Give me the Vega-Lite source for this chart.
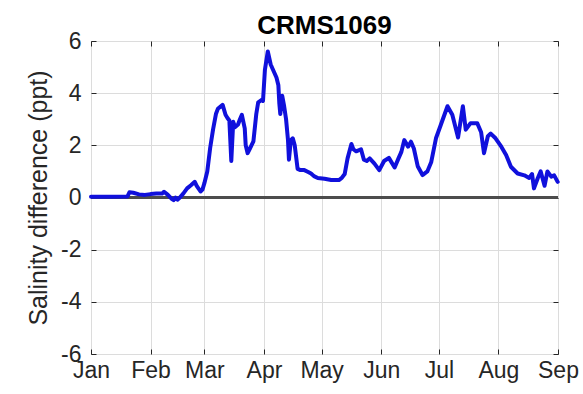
{
  "$schema": "https://vega.github.io/schema/vega-lite/v6.json",
  "width": 467,
  "height": 313,
  "autosize": {"type": "none"},
  "padding": {"left": 91, "top": 41, "right": 25, "bottom": 40},
  "background": "white",
  "title": {"text": "CRMS1069", "fontSize": 26, "fontWeight": "bold", "font": "Liberation Sans", "color": "#000000", "offset": 0, "dy": 9, "anchor": "middle"},
  "config": {
    "view": {"stroke": "#262626", "strokeWidth": 1},
    "axis": {
      "labelFont": "Liberation Sans",
      "labelFontSize": 23,
      "labelColor": "#262626",
      "labelFlush": false,
      "labelOverlap": false,
      "titleFont": "Liberation Sans",
      "titleFontSize": 25,
      "titleFontWeight": "normal",
      "titleColor": "#262626",
      "gridColor": "#dcdcdc",
      "gridWidth": 1,
      "domain": false,
      "tickColor": "#262626",
      "tickSize": -5
    }
  },
  "data": {"values": [
    {"date": "2019-01-01T00:00", "v": 0.03},
    {"date": "2019-01-11T00:00", "v": 0.03},
    {"date": "2019-01-20T00:00", "v": 0.04},
    {"date": "2019-01-21T00:00", "v": 0.2},
    {"date": "2019-01-23T00:00", "v": 0.18},
    {"date": "2019-01-26T00:00", "v": 0.12},
    {"date": "2019-01-29T00:00", "v": 0.1},
    {"date": "2019-02-01T00:00", "v": 0.13},
    {"date": "2019-02-04T00:00", "v": 0.15},
    {"date": "2019-02-07T00:00", "v": 0.15},
    {"date": "2019-02-08T00:00", "v": 0.22},
    {"date": "2019-02-10T00:00", "v": 0.1},
    {"date": "2019-02-12T00:00", "v": -0.05},
    {"date": "2019-02-13T00:00", "v": -0.1},
    {"date": "2019-02-14T00:00", "v": 0.0},
    {"date": "2019-02-15T00:00", "v": -0.08},
    {"date": "2019-02-16T00:00", "v": -0.02},
    {"date": "2019-02-18T00:00", "v": 0.15},
    {"date": "2019-02-20T00:00", "v": 0.35},
    {"date": "2019-02-22T00:00", "v": 0.47},
    {"date": "2019-02-24T00:00", "v": 0.6},
    {"date": "2019-02-25T00:00", "v": 0.45},
    {"date": "2019-02-27T00:00", "v": 0.23},
    {"date": "2019-02-28T00:00", "v": 0.3},
    {"date": "2019-03-01T00:00", "v": 0.55},
    {"date": "2019-03-02T12:00", "v": 1.0},
    {"date": "2019-03-04T00:00", "v": 1.9},
    {"date": "2019-03-05T12:00", "v": 2.6},
    {"date": "2019-03-07T00:00", "v": 3.2},
    {"date": "2019-03-08T00:00", "v": 3.4},
    {"date": "2019-03-10T12:00", "v": 3.55},
    {"date": "2019-03-12T00:00", "v": 3.17},
    {"date": "2019-03-13T00:00", "v": 3.05},
    {"date": "2019-03-14T00:00", "v": 2.95},
    {"date": "2019-03-15T00:00", "v": 1.4},
    {"date": "2019-03-16T00:00", "v": 2.9},
    {"date": "2019-03-17T00:00", "v": 2.7},
    {"date": "2019-03-18T12:00", "v": 2.8},
    {"date": "2019-03-19T12:00", "v": 3.0},
    {"date": "2019-03-20T12:00", "v": 3.17},
    {"date": "2019-03-22T00:00", "v": 2.65},
    {"date": "2019-03-22T12:00", "v": 2.0},
    {"date": "2019-03-23T12:00", "v": 1.7},
    {"date": "2019-03-24T12:00", "v": 1.85},
    {"date": "2019-03-25T12:00", "v": 2.0},
    {"date": "2019-03-26T12:00", "v": 2.15},
    {"date": "2019-03-28T00:00", "v": 3.2},
    {"date": "2019-03-29T00:00", "v": 3.65},
    {"date": "2019-03-31T00:00", "v": 3.75},
    {"date": "2019-03-31T12:00", "v": 3.7},
    {"date": "2019-04-01T12:00", "v": 4.9},
    {"date": "2019-04-03T00:00", "v": 5.6},
    {"date": "2019-04-04T12:00", "v": 5.1},
    {"date": "2019-04-06T00:00", "v": 4.85},
    {"date": "2019-04-07T12:00", "v": 4.6},
    {"date": "2019-04-08T12:00", "v": 4.3},
    {"date": "2019-04-09T00:00", "v": 3.6},
    {"date": "2019-04-09T12:00", "v": 3.2},
    {"date": "2019-04-10T12:00", "v": 3.9},
    {"date": "2019-04-11T12:00", "v": 3.5},
    {"date": "2019-04-12T12:00", "v": 3.0},
    {"date": "2019-04-13T12:00", "v": 2.2},
    {"date": "2019-04-14T00:00", "v": 1.45},
    {"date": "2019-04-15T00:00", "v": 2.2},
    {"date": "2019-04-16T00:00", "v": 2.27},
    {"date": "2019-04-17T00:00", "v": 2.0},
    {"date": "2019-04-18T12:00", "v": 1.1},
    {"date": "2019-04-20T00:00", "v": 1.05},
    {"date": "2019-04-22T00:00", "v": 1.05},
    {"date": "2019-04-24T00:00", "v": 0.98},
    {"date": "2019-04-25T12:00", "v": 0.92},
    {"date": "2019-04-27T00:00", "v": 0.82},
    {"date": "2019-04-29T00:00", "v": 0.75},
    {"date": "2019-05-02T12:00", "v": 0.72},
    {"date": "2019-05-06T00:00", "v": 0.67},
    {"date": "2019-05-10T00:00", "v": 0.67},
    {"date": "2019-05-11T12:00", "v": 0.75},
    {"date": "2019-05-13T00:00", "v": 0.9},
    {"date": "2019-05-14T12:00", "v": 1.5},
    {"date": "2019-05-16T12:00", "v": 2.05},
    {"date": "2019-05-17T12:00", "v": 1.85},
    {"date": "2019-05-19T00:00", "v": 1.77},
    {"date": "2019-05-21T12:00", "v": 1.85},
    {"date": "2019-05-23T00:00", "v": 1.45},
    {"date": "2019-05-24T12:00", "v": 1.4},
    {"date": "2019-05-26T00:00", "v": 1.5},
    {"date": "2019-05-28T12:00", "v": 1.3},
    {"date": "2019-05-31T00:00", "v": 1.05},
    {"date": "2019-06-02T12:00", "v": 1.4},
    {"date": "2019-06-05T00:00", "v": 1.52},
    {"date": "2019-06-08T00:00", "v": 1.15},
    {"date": "2019-06-10T00:00", "v": 1.5},
    {"date": "2019-06-11T12:00", "v": 1.75},
    {"date": "2019-06-13T00:00", "v": 2.2},
    {"date": "2019-06-15T00:00", "v": 1.95},
    {"date": "2019-06-16T12:00", "v": 2.14},
    {"date": "2019-06-18T00:00", "v": 1.88},
    {"date": "2019-06-20T00:00", "v": 1.2},
    {"date": "2019-06-22T12:00", "v": 0.86},
    {"date": "2019-06-25T00:00", "v": 1.0},
    {"date": "2019-06-27T00:00", "v": 1.35},
    {"date": "2019-06-29T12:00", "v": 2.27},
    {"date": "2019-07-02T00:00", "v": 2.78},
    {"date": "2019-07-05T12:00", "v": 3.5},
    {"date": "2019-07-08T00:00", "v": 3.17},
    {"date": "2019-07-11T00:00", "v": 2.3},
    {"date": "2019-07-13T12:00", "v": 3.5},
    {"date": "2019-07-15T00:00", "v": 2.6},
    {"date": "2019-07-17T12:00", "v": 2.85},
    {"date": "2019-07-21T00:00", "v": 2.85},
    {"date": "2019-07-23T00:00", "v": 2.5},
    {"date": "2019-07-24T12:00", "v": 1.7},
    {"date": "2019-07-26T12:00", "v": 2.35},
    {"date": "2019-07-28T00:00", "v": 2.45},
    {"date": "2019-07-30T12:00", "v": 2.27},
    {"date": "2019-08-02T12:00", "v": 1.95},
    {"date": "2019-08-05T00:00", "v": 1.63},
    {"date": "2019-08-07T12:00", "v": 1.18},
    {"date": "2019-08-11T00:00", "v": 0.92},
    {"date": "2019-08-14T12:00", "v": 0.85},
    {"date": "2019-08-17T00:00", "v": 0.75},
    {"date": "2019-08-18T12:00", "v": 0.9},
    {"date": "2019-08-19T12:00", "v": 0.35},
    {"date": "2019-08-21T12:00", "v": 0.75},
    {"date": "2019-08-23T00:00", "v": 1.0},
    {"date": "2019-08-25T00:00", "v": 0.45},
    {"date": "2019-08-26T12:00", "v": 1.0},
    {"date": "2019-08-28T12:00", "v": 0.8},
    {"date": "2019-08-30T00:00", "v": 0.85},
    {"date": "2019-08-31T20:00", "v": 0.6}
  ]},
  "layer": [
    {
      "mark": {"type": "rule", "color": "#4d4d4d", "strokeWidth": 1.5},
      "encoding": {"y": {"datum": 0, "type": "quantitative", "axis": null}}
    },
    {
      "mark": {"type": "line", "color": "#1010dc", "strokeWidth": 4, "strokeJoin": "round", "strokeCap": "round"},
      "encoding": {
        "x": {
          "field": "date", "type": "temporal",
          "scale": {"domain": [{"year": 2019, "month": 1, "date": 1}, {"year": 2019, "month": 9, "date": 1}]},
          "axis": {
            "orient": "bottom", "title": null, "format": "%b", "grid": true, "labelPadding": 10,
            "values": [
              {"year": 2019, "month": 1, "date": 1}, {"year": 2019, "month": 2, "date": 1},
              {"year": 2019, "month": 3, "date": 1}, {"year": 2019, "month": 4, "date": 1},
              {"year": 2019, "month": 5, "date": 1}, {"year": 2019, "month": 6, "date": 1},
              {"year": 2019, "month": 7, "date": 1}, {"year": 2019, "month": 8, "date": 1},
              {"year": 2019, "month": 9, "date": 1}
            ]
          }
        },
        "y": {
          "field": "v", "type": "quantitative",
          "scale": {"domain": [-6, 6], "nice": false},
          "axis": {"orient": "left", "title": "Salinity difference (ppt)", "values": [-6, -4, -2, 0, 2, 4, 6], "labelExpr": "toString(datum.value)", "grid": true, "labelPadding": 15, "titlePadding": 9}
        }
      }
    },
    {
      "mark": {"type": "line", "opacity": 0},
      "encoding": {
        "x": {"field": "date", "type": "temporal", "axis": {"orient": "top", "labels": false, "grid": false, "title": null,
          "values": [
            {"year": 2019, "month": 1, "date": 1}, {"year": 2019, "month": 2, "date": 1},
            {"year": 2019, "month": 3, "date": 1}, {"year": 2019, "month": 4, "date": 1},
            {"year": 2019, "month": 5, "date": 1}, {"year": 2019, "month": 6, "date": 1},
            {"year": 2019, "month": 7, "date": 1}, {"year": 2019, "month": 8, "date": 1},
            {"year": 2019, "month": 9, "date": 1}
          ]}},
        "y": {"field": "v", "type": "quantitative", "axis": {"orient": "right", "labels": false, "grid": false, "title": null, "values": [-6, -4, -2, 0, 2, 4, 6]}}
      }
    }
  ],
  "resolve": {"axis": {"x": "independent", "y": "independent"}}
}
